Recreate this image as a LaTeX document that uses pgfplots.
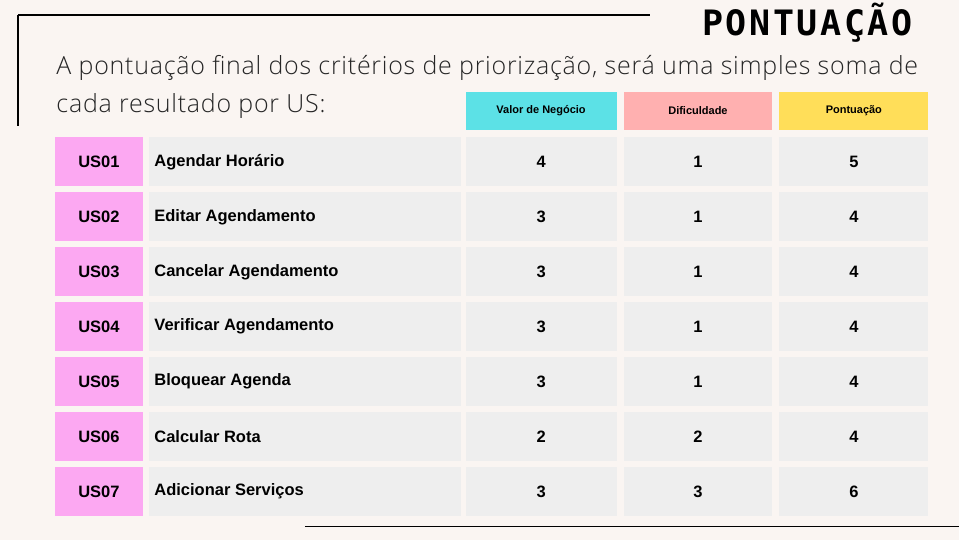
\documentclass[border=0pt]{standalone}
\usepackage{pgfplots}
\pgfplotsset{compat=1.18}
\usepackage{fontspec}
\setmainfont{Liberation Sans}
\newfontfamily\bodyfont[LetterSpace=3]{Open Sans Light}
\newfontfamily\monofont[LetterSpace=7.5]{DejaVu Sans Mono}
\definecolor{bg}{HTML}{FAF5F2}
\definecolor{cyanc}{HTML}{5CE1E6}
\definecolor{pinkc}{HTML}{FFB0B0}
\definecolor{yelc}{HTML}{FFDE59}
\definecolor{magc}{HTML}{FCA8F2}
\definecolor{grayc}{HTML}{EEEEEE}
\pgfplotstableread{
id name v d p
US01 {Agendar Horário} 4 1 5
US02 {Editar Agendamento} 3 1 4
US03 {Cancelar Agendamento} 3 1 4
US04 {Verificar Agendamento} 3 1 4
US05 {Bloquear Agenda} 3 1 4
US06 {Calcular Rota} 2 2 4
US07 {Adicionar Serviços} 3 3 6
}\datatable
\begin{document}
\begin{tikzpicture}
\begin{axis}[scale only axis, width=960pt, height=540pt, xmin=0, xmax=960, ymin=0, ymax=540, y dir=reverse, hide axis, clip=false]
\fill[bg] (axis cs:0,0) rectangle (axis cs:960,540);
\draw[line width=1.5pt] (axis cs:18,15) -- (axis cs:650,15);
\draw[line width=1.5pt] (axis cs:18,15) -- (axis cs:18,126);
\draw[line width=1.5pt] (axis cs:305,527) -- (axis cs:960,527);
\node[font=\monofont\bfseries\fontsize{35}{38}\selectfont] at (axis cs:808,23) {PONTUAÇÃO};
\node[anchor=west, font=\bodyfont\fontsize{25}{28}\selectfont, text=black!85] at (axis cs:53,68) {A pontuação final dos critérios de priorização, será uma simples soma de};
\node[anchor=west, font=\bodyfont\fontsize{25}{28}\selectfont, text=black!85] at (axis cs:53,106) {cada resultado por US:};
\fill[cyanc] (axis cs:466,92) rectangle (axis cs:617,130);
\fill[pinkc] (axis cs:624,92) rectangle (axis cs:773,130);
\fill[yelc] (axis cs:780,92) rectangle (axis cs:929,130);
\node[font=\bfseries\fontsize{11}{13}\selectfont] at (axis cs:541.5,111) {Valor de Negócio};
\node[font=\bfseries\fontsize{11}{13}\selectfont] at (axis cs:698.5,111) {Dificuldade};
\node[font=\bfseries\fontsize{11}{13}\selectfont] at (axis cs:854.5,111) {Pontuação};
\pgfplotstablegetrowsof{\datatable}
\pgfmathtruncatemacro{\nr}{\pgfplotsretval-1}
\pgfplotsforeachungrouped \i in {0,...,\nr}{
  \pgfplotstablegetelem{\i}{id}\of\datatable \let\cid\pgfplotsretval
  \pgfplotstablegetelem{\i}{name}\of\datatable \let\cname\pgfplotsretval
  \pgfplotstablegetelem{\i}{v}\of\datatable \let\cv\pgfplotsretval
  \pgfplotstablegetelem{\i}{d}\of\datatable \let\cd\pgfplotsretval
  \pgfplotstablegetelem{\i}{p}\of\datatable \let\cp\pgfplotsretval
  \pgfmathsetmacro{\yt}{137+55*\i}
  \pgfmathsetmacro{\yb}{\yt+49}
  \pgfmathsetmacro{\ym}{\yt+25}
  \edef\temp{\noexpand\fill[magc] (axis cs:55,\yt) rectangle (axis cs:143,\yb);
  \noexpand\fill[grayc] (axis cs:149,\yt) rectangle (axis cs:461,\yb);
  \noexpand\fill[grayc] (axis cs:466,\yt) rectangle (axis cs:617,\yb);
  \noexpand\fill[grayc] (axis cs:624,\yt) rectangle (axis cs:773,\yb);
  \noexpand\fill[grayc] (axis cs:780,\yt) rectangle (axis cs:929,\yb);
  \noexpand\node[font=\noexpand\bfseries\noexpand\fontsize{16.5}{18}\noexpand\selectfont] at (axis cs:99,\ym) {\cid};
  \noexpand\node[anchor=west,font=\noexpand\bfseries\noexpand\fontsize{16.5}{18}\noexpand\selectfont] at (axis cs:151,\ym) {\cname};
  \noexpand\node[font=\noexpand\bfseries\noexpand\fontsize{16.5}{18}\noexpand\selectfont] at (axis cs:541.5,\ym) {\cv};
  \noexpand\node[font=\noexpand\bfseries\noexpand\fontsize{16.5}{18}\noexpand\selectfont] at (axis cs:698.5,\ym) {\cd};
  \noexpand\node[font=\noexpand\bfseries\noexpand\fontsize{16.5}{18}\noexpand\selectfont] at (axis cs:854.5,\ym) {\cp};}
  \temp
}
\end{axis}
\end{tikzpicture}
\end{document}
